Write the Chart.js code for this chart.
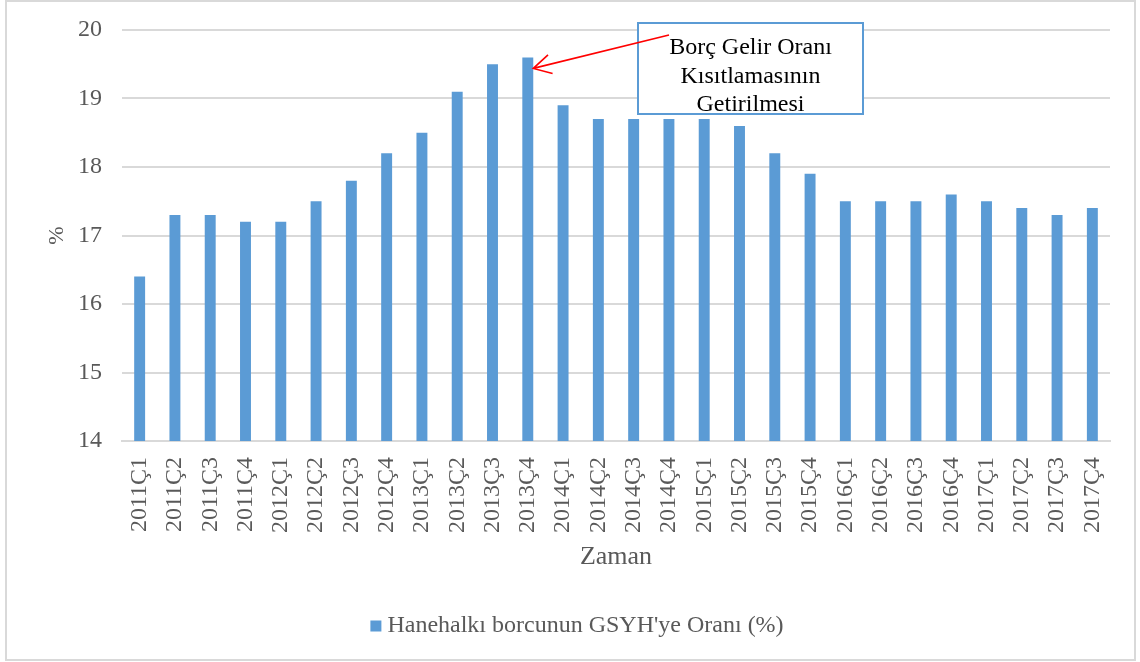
<!DOCTYPE html>
<html lang="tr">
<head>
<meta charset="utf-8">
<title>Hanehalkı borcunun GSYH'ye Oranı</title>
<script src="https://cdn.jsdelivr.net/npm/chart.js@4/dist/chart.umd.min.js"></script>
<style>
  html, body { margin: 0; padding: 0; background: #fff; }
  #wrap { position: relative; width: 1140px; height: 662px; }
</style>
</head>
<body>
<div id="wrap"><canvas id="debtChart" width="1140" height="662"></canvas></div>
<script>
// quarters 2011Ç1 .. 2017Ç4
const quarters = [
    '2011Ç1','2011Ç2','2011Ç3','2011Ç4','2012Ç1','2012Ç2','2012Ç3','2012Ç4',
    '2013Ç1','2013Ç2','2013Ç3','2013Ç4','2014Ç1','2014Ç2','2014Ç3','2014Ç4',
    '2015Ç1','2015Ç2','2015Ç3','2015Ç4','2016Ç1','2016Ç2','2016Ç3','2016Ç4',
    '2017Ç1','2017Ç2','2017Ç3','2017Ç4'
];
const debtRatio = [
    16.4, 17.3, 17.3, 17.2, 17.2, 17.5, 17.8, 18.2,
    18.5, 19.1, 19.5, 19.6, 18.9, 18.7, 18.7, 18.7,
    18.7, 18.6, 18.2, 17.9, 17.5, 17.5, 17.5, 17.6,
    17.5, 17.4, 17.3, 17.4
];
const seriesLabel = "Hanehalkı borcunun GSYH'ye Oranı (%)";
const noteLines = ['Borç Gelir Oranı', 'Kısıtlamasının', 'Getirilmesi'];
const noteIndex = 11; // 2013Ç4

const serif = "'Liberation Serif', 'Times New Roman', serif";
const textGray = '#595959';
const gridGray = '#d9d9d9';
const barBlue = '#5b9bd5';

// light frame round the whole chart
const framePlugin = {
    id: 'frame',
    beforeDraw(chart) {
        const ctx = chart.ctx;
        ctx.save();
        ctx.fillStyle = '#fff';
        ctx.fillRect(0, 0, chart.width, chart.height);
        ctx.strokeStyle = gridGray;
        ctx.lineWidth = 2;
        ctx.strokeRect(6, 1, chart.width - 11, chart.height - 3);
        ctx.restore();
    }
};

// legend drawn by hand: square swatch with a tight gap before the text
const legendPlugin = {
    id: 'simpleLegend',
    afterDraw(chart) {
        const ctx = chart.ctx;
        const ds = chart.data.datasets[0];
        ctx.save();
        ctx.font = '24px ' + serif;
        const textW = ctx.measureText(ds.label).width;
        const box = 11, gap = 6;
        const total = box + gap + textW;
        const x0 = chart.width / 2 + 7 - total / 2;
        const yMid = chart.height - 36;
        ctx.fillStyle = ds.backgroundColor;
        ctx.fillRect(x0, yMid - box / 2, box, box);
        ctx.fillStyle = textGray;
        ctx.textBaseline = 'middle';
        ctx.textAlign = 'left';
        ctx.fillText(ds.label, x0 + box + gap, yMid);
        ctx.restore();
    }
};

// callout box with a red arrow pointing at the peak bar
const notePlugin = {
    id: 'note',
    afterDatasetsDraw(chart) {
        const ctx = chart.ctx;
        const area = chart.chartArea;
        const bar = chart.getDatasetMeta(0).data[noteIndex];
        const yScale = chart.scales.y;

        const boxL = area.left + 516, boxT = area.top - 7;
        const boxW = 225, boxH = 91;

        ctx.save();
        ctx.fillStyle = '#fff';
        ctx.fillRect(boxL, boxT, boxW, boxH);
        ctx.strokeStyle = barBlue;
        ctx.lineWidth = 2;
        ctx.strokeRect(boxL, boxT, boxW, boxH);

        ctx.fillStyle = '#000';
        ctx.font = '24px ' + serif;
        ctx.textAlign = 'center';
        ctx.textBaseline = 'middle';
        noteLines.forEach((line, i) => {
            ctx.fillText(line, boxL + boxW / 2, boxT + 25 + i * 28.5);
        });

        // arrow
        const tipX = bar.x + bar.width / 2;
        const tipY = yScale.getPixelForValue(debtRatio[noteIndex]) + 11;
        const fromX = boxL + 31, fromY = boxT + 12;
        const ang = Math.atan2(fromY - tipY, fromX - tipX);
        const head = 20, spread = 0.5;
        ctx.strokeStyle = '#ff0000';
        ctx.lineWidth = 1.6;
        ctx.beginPath();
        ctx.moveTo(fromX, fromY);
        ctx.lineTo(tipX, tipY);
        ctx.moveTo(tipX + head * Math.cos(ang - spread), tipY + head * Math.sin(ang - spread));
        ctx.lineTo(tipX, tipY);
        ctx.lineTo(tipX + head * Math.cos(ang + spread), tipY + head * Math.sin(ang + spread));
        ctx.stroke();
        ctx.restore();
    }
};

new Chart(document.getElementById('debtChart'), {
    type: 'bar',
    data: {
        labels: quarters,
        datasets: [{
            label: seriesLabel,
            data: debtRatio,
            backgroundColor: barBlue,
            borderWidth: 0,
            categoryPercentage: 1,
            barPercentage: 0.31
        }]
    },
    options: {
        responsive: false,
        animation: false,
        devicePixelRatio: 1,
        layout: { padding: { left: 10, right: 30, top: 30, bottom: 58 } },
        plugins: {
            tooltip: { enabled: false },
            legend: { display: false }
        },
        scales: {
            x: {
                grid: { display: false, drawTicks: false },
                border: { display: true, color: gridGray, width: 2 },
                ticks: {
                    color: textGray,
                    font: { family: serif, size: 24 },
                    minRotation: 90,
                    maxRotation: 90,
                    padding: 16,
                    autoSkip: false
                },
                title: {
                    display: true,
                    text: 'Zaman',
                    color: textGray,
                    font: { family: serif, size: 26 },
                    padding: { top: 0, bottom: 31 }
                },
                afterFit(scale) { scale.height = 163; }
            },
            y: {
                min: 14,
                max: 20,
                grid: { color: gridGray, lineWidth: 2, drawTicks: false },
                border: { display: false },
                ticks: {
                    stepSize: 1,
                    color: textGray,
                    font: { family: serif, size: 24 },
                    padding: 20
                },
                title: {
                    display: true,
                    text: '%',
                    color: textGray,
                    font: { family: serif, size: 22 },
                    padding: { top: 34, bottom: 0 }
                },
                afterFit(scale) {
                    scale.width = 112;
                    scale.paddingTop = 0;
                    scale.paddingBottom = 0;
                }
            }
        }
    },
    plugins: [framePlugin, notePlugin, legendPlugin]
});
</script>
</body>
</html>
